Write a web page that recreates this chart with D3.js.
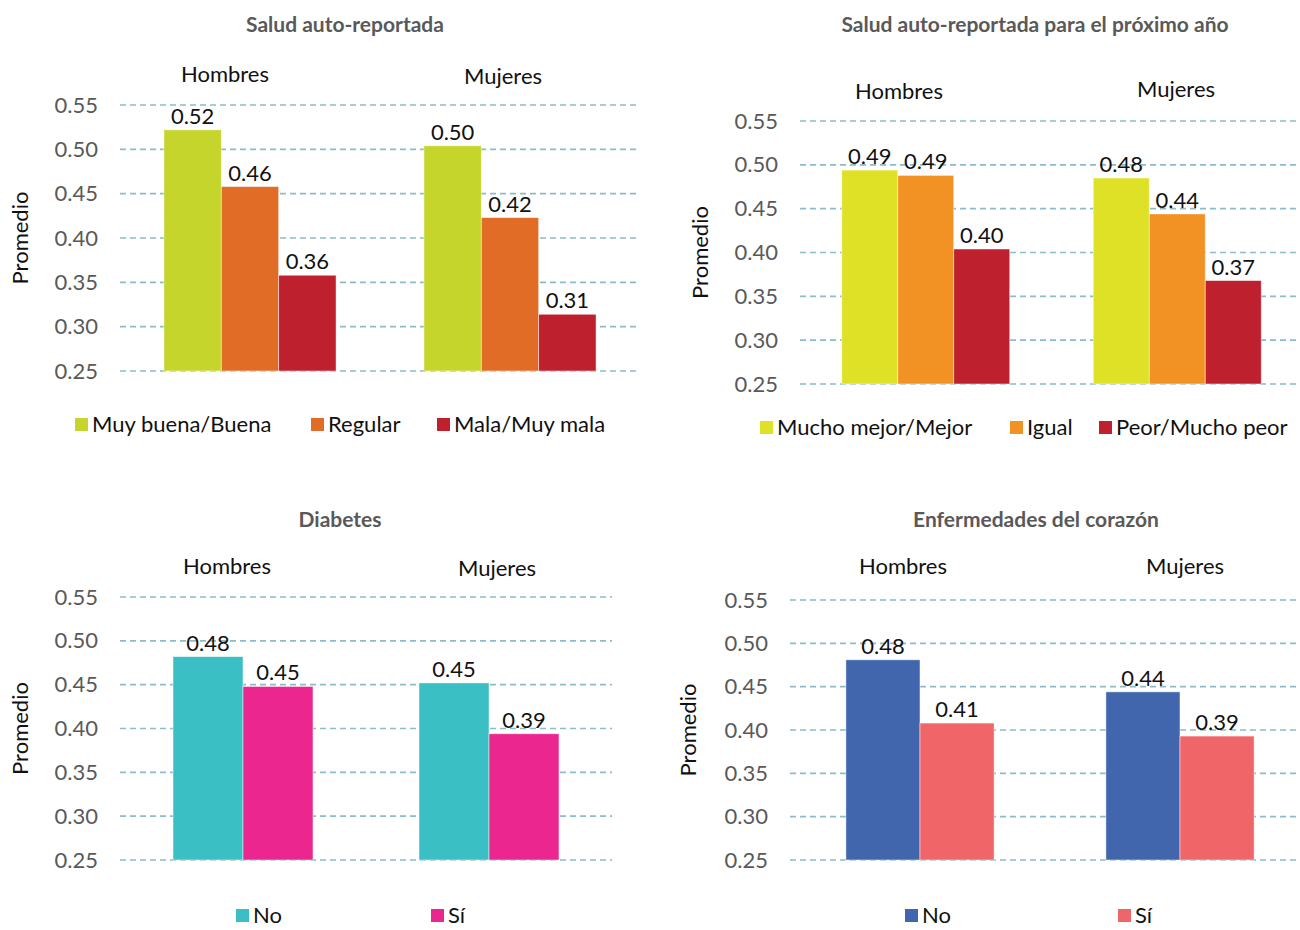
<!DOCTYPE html>
<html>
<head>
<meta charset="utf-8">
<script src="https://cdn.jsdelivr.net/npm/d3@7"></script>
<style>
  body { margin: 0; background: #fff; }
  svg { display: block; font-family: Lato, "Open Sans", sans-serif; }
</style>
</head>
<body>
<svg id="chart" width="1300" height="930"></svg>
<script>
// ---- data ----
var groups = ['Hombres', 'Mujeres']
var yTicks = [0.25, 0.30, 0.35, 0.40, 0.45, 0.50, 0.55]

var saludCats = ['Muy buena/Buena', 'Regular', 'Mala/Muy mala']
var saludVals = [[0.522, 0.458, 0.358], [0.504, 0.423, 0.314]]

var proxCats = ['Mucho mejor/Mejor', 'Igual', 'Peor/Mucho peor']
var proxVals = [[0.494, 0.488, 0.404], [0.485, 0.444, 0.368]]

var diabCats = ['No', 'Sí']
var diabVals = [[0.482, 0.448], [0.452, 0.394]]

var corCats = ['No', 'Sí']
var corVals = [[0.481, 0.408], [0.444, 0.393]]

// ---- layout ----
var panels = [
    { title: 'Salud auto-reportada', cats: saludCats, vals: saludVals,
      colors: ['#C5D52B', '#E06C26', '#BE202E'],
      x0: 120, x1: 640, gridX1: 640, yTop: 105, yBot: 371, pad: 0.338,
      titleX: 345, titleY: 32, grpLab: [[225, 82], [503, 84]], ytX: 28,
      legY: 424, legX: [75, 311, 437] },
    { title: 'Salud auto-reportada para el próximo año', cats: proxCats, vals: proxVals,
      colors: ['#DEE126', '#F39224', '#BE202E'],
      x0: 800, x1: 1303, gridX1: 1300, yTop: 121, yBot: 384, pad: 0.332,
      titleX: 1035, titleY: 32, grpLab: [[899, 99], [1176, 97]], ytX: 708,
      legY: 427, legX: [760, 1010, 1099] },
    { title: 'Diabetes', cats: diabCats, vals: diabVals,
      colors: ['#3ABFC4', '#EC268F'],
      x0: 120, x1: 612, gridX1: 612, yTop: 597, yBot: 860, pad: 0.431,
      titleX: 340, titleY: 527, grpLab: [[227, 574], [497, 576]], ytX: 28,
      legY: 915, legX: [236, 431] },
    { title: 'Enfermedades del corazón', cats: corCats, vals: corVals,
      colors: ['#4166AE', '#F06568'],
      x0: 790, x1: 1310, gridX1: 1300, yTop: 600, yBot: 860, pad: 0.43,
      titleX: 1036, titleY: 527, grpLab: [[903, 574], [1185, 574]], ytX: 696,
      legY: 915, legX: [905, 1118] }
]

var svg = d3.select('#chart')
var fmt = d3.format('.2f')
var fs = '22px'

panels.forEach(function (p) {
    var g = svg.append('g')

    var y = d3.scaleLinear().domain([0.25, 0.55]).range([p.yBot, p.yTop])
    var x = d3.scaleBand().domain(groups).range([p.x0, p.x1])
        .paddingInner(p.pad).paddingOuter(p.pad / 2)
    var xs = d3.scaleBand().domain(p.cats).range([0, x.bandwidth()])

    // grid
    g.selectAll('.grid').data(yTicks).join('line')
        .attr('x1', p.x0).attr('x2', p.gridX1)
        .attr('y1', function (d) { return y(d) }).attr('y2', function (d) { return y(d) })
        .attr('stroke', '#8CBCC8').attr('stroke-width', 1.6)
        .attr('stroke-dasharray', '6,4')

    // y axis labels
    var ax = d3.axisLeft(y).tickValues(yTicks).tickFormat(fmt).tickSize(0).tickPadding(0)
    var axg = g.append('g').attr('transform', 'translate(' + (p.x0 - 22) + ',0)').call(ax)
    axg.select('.domain').remove()
    axg.selectAll('text').attr('fill', '#595959').style('font-size', fs)
        .style('font-family', 'Lato, sans-serif')

    // bars
    groups.forEach(function (grp, gi) {
        var gg = g.append('g').attr('transform', 'translate(' + x(grp) + ',0)')
        gg.selectAll('rect').data(p.vals[gi]).join('rect')
            .attr('x', function (d, i) { return xs(p.cats[i]) })
            .attr('width', xs.bandwidth())
            .attr('y', function (d) { return y(d) })
            .attr('height', function (d) { return y(0.25) - y(d) })
            .attr('fill', function (d, i) { return p.colors[i] })
            .attr('stroke', 'rgba(255,255,255,0.6)').attr('stroke-width', 0.8)
        gg.selectAll('text').data(p.vals[gi]).join('text')
            .attr('x', function (d, i) { return xs(p.cats[i]) + xs.bandwidth() / 2 })
            .attr('y', function (d) { return y(d) - 6 })
            .attr('text-anchor', 'middle')
            .style('font-size', fs).attr('fill', '#111')
            .text(function (d) { return fmt(d) })
    })

    // group labels
    groups.forEach(function (grp, gi) {
        g.append('text').attr('x', p.grpLab[gi][0]).attr('y', p.grpLab[gi][1])
            .attr('text-anchor', 'middle').style('font-size', fs).attr('fill', '#111')
            .text(grp)
    })

    // title
    g.append('text').attr('x', p.titleX).attr('y', p.titleY)
        .attr('text-anchor', 'middle').style('font-size', '21px').style('font-weight', 'bold')
        .attr('fill', '#595959').text(p.title)

    // y title
    g.append('text')
        .attr('transform', 'translate(' + p.ytX + ',' + ((p.yTop + p.yBot) / 2) + ') rotate(-90)')
        .attr('text-anchor', 'middle').style('font-size', fs).attr('fill', '#111')
        .text('Promedio')

    // legend
    p.cats.forEach(function (c, i) {
        var lg = g.append('g').attr('transform', 'translate(' + p.legX[i] + ',' + p.legY + ')')
        lg.append('rect').attr('x', 0).attr('y', -6).attr('width', 13).attr('height', 13)
            .attr('fill', p.colors[i])
        lg.append('text').attr('x', 17).attr('y', 8).style('font-size', fs)
            .attr('fill', '#111').text(c)
    })
})
</script>
</body>
</html>
